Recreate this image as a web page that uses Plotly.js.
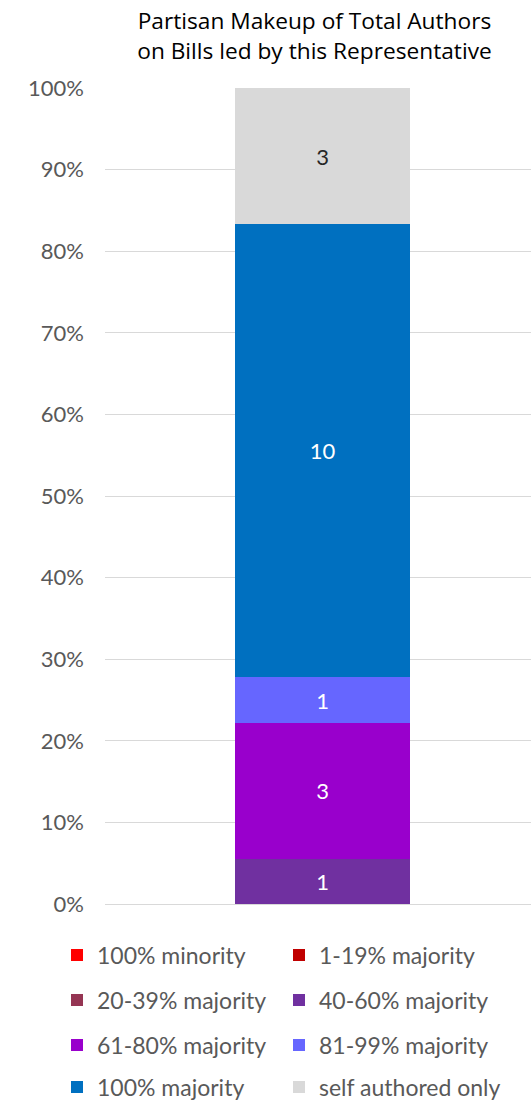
<!DOCTYPE html>
<html>
<head>
<meta charset="utf-8">
<script src="https://cdn.plot.ly/plotly-3.0.1.min.js"></script>
<style>html,body{margin:0;padding:0;background:#fff;}#chart{width:531px;height:1104px;}</style>
</head>
<body>
<div id="chart"></div>
<script>
const categories = ["100% minority","1-19% majority","20-39% majority","40-60% majority","61-80% majority","81-99% majority","100% majority","self authored only"];
const counts = [0,0,0,1,3,1,10,3];
const colors = ["#FF0000","#C00000","#953553","#7030A0","#9900CC","#6666FF","#0070C0","#D9D9D9"];
const textColors = ["#FFFFFF","#FFFFFF","#FFFFFF","#FFFFFF","#FFFFFF","#FFFFFF","#FFFFFF","#262626"];
const yTicks = [0,10,20,30,40,50,60,70,80,90,100];
const yTickLabels = yTicks.map(v => v + "%");

const FONT = "Lato, 'Open Sans', sans-serif";
const legendIds = ["legend","legend2","legend3","legend4","legend5","legend6","legend7","legend8"];
const legendX = [57, 279];
const legendY = [955, 1000, 1045, 1087];

const traces = categories.map((name, i) => ({
  type: "bar",
  name: name,
  x: [0],
  y: [counts[i]],
  width: [1],
  marker: {color: colors[i], line: {width: 0}},
  text: [counts[i] > 0 ? String(counts[i]) : ""],
  textposition: "inside",
  insidetextanchor: "middle",
  textangle: 0,
  constraintext: "none",
  insidetextfont: {family: FONT, size: 22, color: textColors[i]},
  legend: legendIds[i],
  hoverinfo: "skip"
}));

const layout = {
  width: 531, height: 1104,
  margin: {l: 105, r: 0, t: 88, b: 200},
  paper_bgcolor: "#fff", plot_bgcolor: "#fff",
  barmode: "stack",
  barnorm: "percent",
  showlegend: true,
  title: {
    text: "Partisan Makeup of Total Authors<br>on Bills led by this Representative",
    font: {family: "'Open Sans', sans-serif", size: 22.7, color: "#000"},
    xref: "container", yref: "container",
    x: 314.5/531, xanchor: "center",
    y: 1 - 29/1104, yanchor: "top"
  },
  xaxis: {
    range: [-1.243, 1.191],
    showticklabels: false, showgrid: false, zeroline: false, showline: false, ticks: "",
    fixedrange: true
  },
  yaxis: {
    range: [0, 100],
    tickvals: yTicks, ticktext: yTickLabels,
    showgrid: true, gridcolor: "#D9D9D9", gridwidth: 1,
    zeroline: true, zerolinecolor: "#D9D9D9", zerolinewidth: 1,
    showline: false, ticks: "",
    ticklabelstandoff: 20,
    tickfont: {family: FONT, size: 22, color: "#595959"},
    fixedrange: true
  }
};

legendIds.forEach((id, i) => {
  layout[id] = {
    orientation: "h",
    xref: "container", yref: "container",
    x: legendX[i % 2] / 531, xanchor: "left",
    y: 1 - legendY[Math.floor(i / 2)] / 1104, yanchor: "middle",
    font: {family: FONT, size: 23, color: "#595959"},
    bgcolor: "rgba(0,0,0,0)",
    borderwidth: 0
  };
});

Plotly.newPlot("chart", traces, layout, {staticPlot: true, displayModeBar: false});
</script>
</body>
</html>
